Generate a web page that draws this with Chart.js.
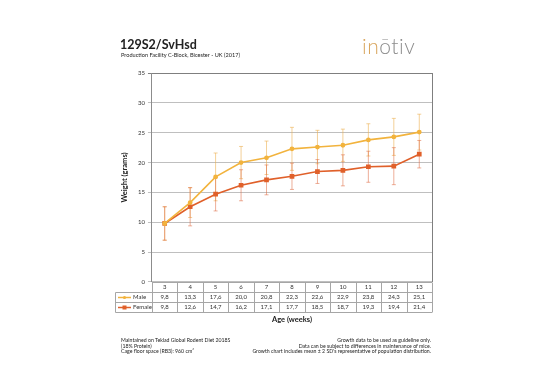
<!DOCTYPE html>
<html>
<head>
<meta charset="utf-8">
<script src="https://cdn.jsdelivr.net/npm/chart.js@4.4.1/dist/chart.umd.min.js"></script>
<style>
  html, body { margin: 0; padding: 0; background: #fff; }
  body { width: 534px; height: 377px; position: relative; overflow: hidden; font-family: Lato, "Liberation Sans", sans-serif; color: #222; }
  #wrap { position: absolute; left: 0; top: 0; width: 534px; height: 377px; }
  .t { position: absolute; white-space: nowrap; }
  #title { left: 120px; top: 37px; font-size: 12.5px; font-weight: bold; }
  #sub { left: 121px; top: 51px; font-size: 5.6px; }
  #logo { left: 362px; top: 33px; font-size: 21px; font-weight: 300; letter-spacing: 0.5px; color: #8c8c8c; }
  #logo .a { color: #d9a65e; }
  .fn { font-size: 5.2px; line-height: 5.6px; }
  #fl { left: 121px; top: 338px; }
  #fr { right: 103px; top: 338px; text-align: right; }
</style>
</head>
<body>
<div id="wrap"><canvas id="myChart"></canvas></div>
<div class="t" id="title">129S2/SvHsd</div>
<div class="t" id="sub">Production Facility C-Block, Bicester - UK (2017)</div>
<div class="t" id="logo"><span class="a">in</span>ōtiv</div>
<div class="t fn" id="fl">Maintained on Teklad Global Rodent Diet 2018S<br>(18% Protein)<br>Cage floor space (RB3): 960 cm²</div>
<div class="t fn" id="fr">Growth data to be used as guideline only.<br>Data can be subject to differences in maintenance of mice.<br>Growth chart includes mean ± 2 SD's representative of population distribution.</div>
<script>
var weeks = [3, 4, 5, 6, 7, 8, 9, 10, 11, 12, 13];
var maleValues = [9.8, 13.3, 17.6, 20.0, 20.8, 22.3, 22.6, 22.9, 23.8, 24.3, 25.1];
var femaleValues = [9.8, 12.6, 14.7, 16.2, 17.1, 17.7, 18.5, 18.7, 19.3, 19.4, 21.4];
var maleErr = [2.8, 2.5, 4.0, 2.7, 2.8, 3.6, 2.8, 2.7, 2.7, 3.1, 3.0];
var femaleErr = [2.8, 3.2, 2.8, 2.6, 2.5, 2.2, 2.0, 2.6, 2.6, 3.1, 2.3];
var yTicks = [0, 5, 10, 15, 20, 25, 30, 35];

var maleColor = "#f2b33d";
var femaleColor = "#e0602a";

function fmt(v) { return v.toFixed(1).replace(".", ","); }

// table under the chart: header row + one row per series, built as multi-line tick labels
var tableLabels = weeks.map(function (w, i) {
  return [String(w), fmt(maleValues[i]), fmt(femaleValues[i])];
});

var errorBars = {
  id: "errorBars",
  beforeDatasetsDraw: function (chart) {
    var ctx = chart.ctx, y = chart.scales.y;
    chart.data.datasets.forEach(function (ds, di) {
      var meta = chart.getDatasetMeta(di);
      ctx.save();
      ctx.strokeStyle = ds.errColor;
      ctx.lineWidth = 0.8;
      meta.data.forEach(function (pt, j) {
        var v = ds.data[j], e = ds.err[j];
        var top = y.getPixelForValue(v + e), bot = y.getPixelForValue(v - e);
        ctx.beginPath();
        ctx.moveTo(pt.x, top); ctx.lineTo(pt.x, bot);
        ctx.moveTo(pt.x - 2, top); ctx.lineTo(pt.x + 2, top);
        ctx.moveTo(pt.x - 2, bot); ctx.lineTo(pt.x + 2, bot);
        ctx.stroke();
      });
      ctx.restore();
    });
  }
};

var dataTable = {
  id: "dataTable",
  afterDraw: function (chart) {
    var ctx = chart.ctx, ca = chart.chartArea, x = chart.scales.x;
    var n = weeks.length, colW = (ca.right - ca.left) / n;
    var y0 = Math.round(ca.bottom) + 0.5, rowH = 10, left = 115.5;
    ctx.save();
    ctx.strokeStyle = "#a6a6a6";
    ctx.lineWidth = 1;
    ctx.beginPath();
    ctx.moveTo(ca.left, y0); ctx.lineTo(ca.right, y0);
    for (var r = 1; r <= 3; r++) {
      ctx.moveTo(left, y0 + r * rowH); ctx.lineTo(ca.right, y0 + r * rowH);
    }
    for (var i = 0; i <= n; i++) {
      var bx = Math.round(x.getPixelForTick(Math.min(i, n - 1)) + (i === n ? colW / 2 : -colW / 2)) + 0.5;
      ctx.moveTo(bx, y0); ctx.lineTo(bx, y0 + 3 * rowH);
    }
    ctx.moveTo(left, y0 + rowH); ctx.lineTo(left, y0 + 3 * rowH);
    ctx.stroke();
    // right border of the plot
    ctx.strokeStyle = "#7f7f7f";
    ctx.beginPath();
    ctx.moveTo(Math.round(ca.right) + 0.5, ca.top); ctx.lineTo(Math.round(ca.right) + 0.5, ca.bottom);
    ctx.stroke();
    // row headers with legend keys
    chart.data.datasets.forEach(function (ds, di) {
      var cy = y0 + rowH * (di + 1) + rowH / 2;
      ctx.strokeStyle = ds.borderColor;
      ctx.fillStyle = ds.borderColor;
      ctx.lineWidth = 1.5;
      ctx.beginPath(); ctx.moveTo(118, cy); ctx.lineTo(131, cy); ctx.stroke();
      if (ds.pointStyle === "rect") ctx.fillRect(122.5, cy - 2, 4, 4);
      else { ctx.beginPath(); ctx.arc(124.5, cy, 1.6, 0, Math.PI * 2); ctx.fill(); }
      ctx.fillStyle = "#333";
      ctx.font = "6px Lato";
      ctx.textBaseline = "middle";
      ctx.fillText(ds.label, 133, cy);
    });
    ctx.restore();
  }
};

new Chart("myChart", {
  type: "line",
  data: {
    labels: tableLabels,
    datasets: [
      {
        label: "Male",
        data: maleValues,
        err: maleErr,
        borderColor: maleColor,
        backgroundColor: maleColor,
        errColor: "rgba(236,176,80,0.75)",
        borderWidth: 1.6,
        pointStyle: "circle",
        pointRadius: 1.6,
        fill: false
      },
      {
        label: "Female",
        data: femaleValues,
        err: femaleErr,
        borderColor: femaleColor,
        backgroundColor: femaleColor,
        errColor: "rgba(222,110,70,0.7)",
        borderWidth: 1.6,
        pointStyle: "rect",
        pointRadius: 2.2,
        fill: false
      }
    ]
  },
  options: {
    responsive: true,
    maintainAspectRatio: false,
    animation: false,
    layout: { padding: { left: 120, right: 102, top: 73, bottom: 53 } },
    plugins: { legend: { display: false }, tooltip: { enabled: false } },
    scales: {
      x: {
        offset: true,
        grid: { display: false, drawTicks: false },
        border: { display: false },
        ticks: { padding: 0, color: "#333", font: { size: 6, family: "Lato", lineHeight: 1.667 }, maxRotation: 0, autoSkip: false },
        title: { display: true, text: "Age (weeks)", font: { size: 7.5, weight: "bold", family: "Lato" }, color: "#222", padding: { top: 3, bottom: 0 } }
      },
      y: {
        min: 0,
        max: 35,
        afterBuildTicks: function (axis) { axis.ticks = yTicks.map(function (v) { return { value: v }; }); },
        grid: {
          color: function (c) { return c.tick && c.tick.value === 35 ? "#7f7f7f" : "#bfbfbf"; },
          tickLength: 4
        },
        border: { color: "#8c8c8c" },
        ticks: { padding: 3, color: "#333", font: { size: 6, family: "Lato" } },
        title: { display: true, text: "Weight (grams)", font: { size: 7.5, weight: "bold", family: "Lato" }, color: "#222", padding: { top: 0, bottom: 6 } }
      }
    }
  },
  plugins: [errorBars, dataTable]
});
</script>
</body>
</html>
